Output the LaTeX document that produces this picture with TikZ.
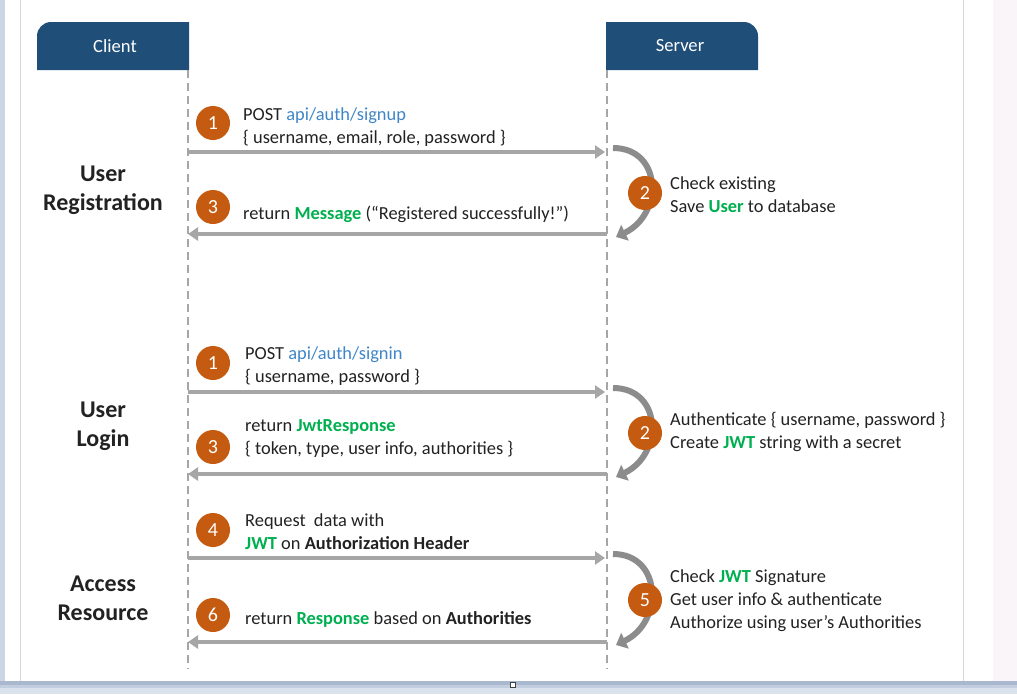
\documentclass[tikz,border=0pt]{standalone}
\usepackage{fontspec}
\setmainfont{Carlito}
\usetikzlibrary{arrows.meta}

\definecolor{hdrblue}{HTML}{1F4E79}
\definecolor{stepor}{HTML}{C55A11}
\definecolor{linkblue}{HTML}{3F86C8}
\definecolor{okgreen}{HTML}{00B050}
\definecolor{msggray}{HTML}{A6A6A6}
\definecolor{loopgray}{HTML}{8C8C8C}
\definecolor{ink}{HTML}{222222}
\definecolor{frameblue}{HTML}{CBD5E4}
\definecolor{sidepink}{HTML}{F9F5F9}
\definecolor{pagerule}{HTML}{D6D6D6}
\definecolor{bandA}{HTML}{A9B8CE}
\definecolor{bandB}{HTML}{C2CEDF}
\definecolor{bandC}{HTML}{DAE2EE}

% green bold keyword, blue endpoint path
\newcommand{\keyw}[1]{\textcolor{okgreen}{\textbf{#1}}}
\newcommand{\apipath}[1]{\textcolor{linkblue}{#1}}

\begin{document}
\begin{tikzpicture}[x=1pt,y=-1pt,
  lifeline/.style={draw=msggray, line width=2pt, dash pattern=on 8pt off 5pt},
  msg/.style={draw=msggray, line width=4pt, -{Triangle[length=10pt,width=13pt]}},
  selfloop/.style={draw=loopgray, line width=6pt, -{Triangle[length=10pt,width=17pt]}},
  badge/.style={circle, fill=stepor, minimum size=34pt, inner sep=0pt, text=white,
                font=\fontsize{20}{24}\selectfont},
  note/.style={anchor=west, align=left, inner sep=0pt, text=ink,
               font=\fontsize{18.4}{23}\selectfont},
  phase/.style={align=center, inner sep=0pt, text=ink,
                font=\fontsize{24}{29}\selectfont\bfseries},
  hdrtext/.style={text=white, inner sep=0pt, font=\fontsize{18.6}{22}\selectfont}]

\useasboundingbox (0,0) rectangle (1017,694);

% page frame
\fill[white] (0,0) rectangle (1017,694);
\fill[frameblue] (0,0) rectangle (5,694);
\fill[sidepink] (993,0) rectangle (1017,694);
\draw[pagerule, line width=1pt] (20.5,0) -- (20.5,681);
\draw[pagerule, line width=1pt] (963.5,0) -- (963.5,681);
% bottom band, darker at its upper edge
\fill[bandA] (0,681) rectangle (1017,684.5);
\fill[bandB] (0,684.5) rectangle (1017,688);
\fill[bandC] (0,688) rectangle (1017,694);
\draw[draw=black!75, fill=white, line width=1pt] (510,682) rectangle (515,687);

% header tabs
\fill[hdrblue] (37,70) -- (37,36) .. controls (37,28.3) and (43.3,22) .. (51,22)
  -- (189,22) -- (189,70) -- cycle;
\fill[hdrblue] (606,70) -- (606,22) -- (744,22) .. controls (751.7,22) and (758,28.3) .. (758,36)
  -- (758,70) -- cycle;
\node[hdrtext] (client) at (115,46) {Client};
\node[hdrtext] (server) at (680,46) {Server};

% lifelines
\coordinate (cl-top) at (188,70);
\coordinate (cl-bot) at (188,669);
\coordinate (sv-top) at (607,70);
\coordinate (sv-bot) at (607,669);
\draw[lifeline] (cl-top) -- (cl-bot);
\draw[lifeline] (sv-top) -- (sv-bot);

% phase labels
\node[phase] (reg)    at (103,190) {User\\Registration};
\node[phase] (login)  at (103,426) {User\\Login};
\node[phase] (access) at (103,598) {Access\\Resource};

% ---- registration ----
\coordinate (c-su) at (188,152);  \coordinate (s-su) at (607,152);
\coordinate (c-sr) at (188,234);  \coordinate (s-sr) at (607,234);
\coordinate (l-su-a) at (613,148); \coordinate (l-su-b) at (616,237);
\draw[msg, shorten >=2pt] (c-su) -- (s-su);
\draw[msg] (s-sr) -- (c-sr);
\draw[selfloop] (l-su-a) .. controls (662,148) and (664,214) .. (l-su-b);
\node[badge] (r1) at (213,123) {1};
\node[badge] (r3) at (213,207) {3};
\node[badge] (r2) at (645,193) {2};
\node[note] (r1t) at (243,127) {POST \apipath{api/auth/signup}\\\{ username, email, role, password \}};
\node[note] (r3t) at (243,214) {return \keyw{Message} (“Registered successfully!”)};
\node[note] (r2t) at (670,194.5) {Check existing\\Save \keyw{User} to database};

% ---- login ----
\coordinate (c-si) at (188,392);  \coordinate (s-si) at (607,392);
\coordinate (c-sj) at (188,474);  \coordinate (s-sj) at (607,474);
\coordinate (l-si-a) at (613,388); \coordinate (l-si-b) at (616,477);
\draw[msg, shorten >=2pt] (c-si) -- (s-si);
\draw[msg] (s-sj) -- (c-sj);
\draw[selfloop] (l-si-a) .. controls (662,388) and (664,454) .. (l-si-b);
\node[badge] (g1) at (213,363) {1};
\node[badge] (g3) at (213,447) {3};
\node[badge] (g2) at (645,433) {2};
\node[note] (g1t) at (245,366.5) {POST \apipath{api/auth/signin}\\\{ username, password \}};
\node[note] (g3t) at (245,439) {return \keyw{JwtResponse}\\\{ token, type, user info, authorities \}};
\node[note] (g2t) at (670,431.5) {Authenticate \{ username, password \}\\Create \keyw{JWT} string with a secret};

% ---- resource access ----
\coordinate (c-rq) at (188,558);  \coordinate (s-rq) at (607,558);
\coordinate (c-rp) at (188,642);  \coordinate (s-rp) at (607,642);
\coordinate (l-rq-a) at (613,554); \coordinate (l-rq-b) at (616,645);
\draw[msg, shorten >=2pt] (c-rq) -- (s-rq);
\draw[msg] (s-rp) -- (c-rp);
\draw[selfloop] (l-rq-a) .. controls (662,554) and (664,622) .. (l-rq-b);
\node[badge] (a4) at (213,530) {4};
\node[badge] (a6) at (213,615) {6};
\node[badge] (a5) at (645,600) {5};
\node[note] (a4t) at (245,531.5) {Request~ data with\\\keyw{JWT} on \textbf{Authorization Header}};
\node[note] (a6t) at (245,619) {return \keyw{Response} based on \textbf{Authorities}};
\node[note] (a5t) at (670,600.5) {Check \keyw{JWT} Signature\\Get user info \& authenticate\\Authorize using user’s Authorities};

\end{tikzpicture}
\end{document}
